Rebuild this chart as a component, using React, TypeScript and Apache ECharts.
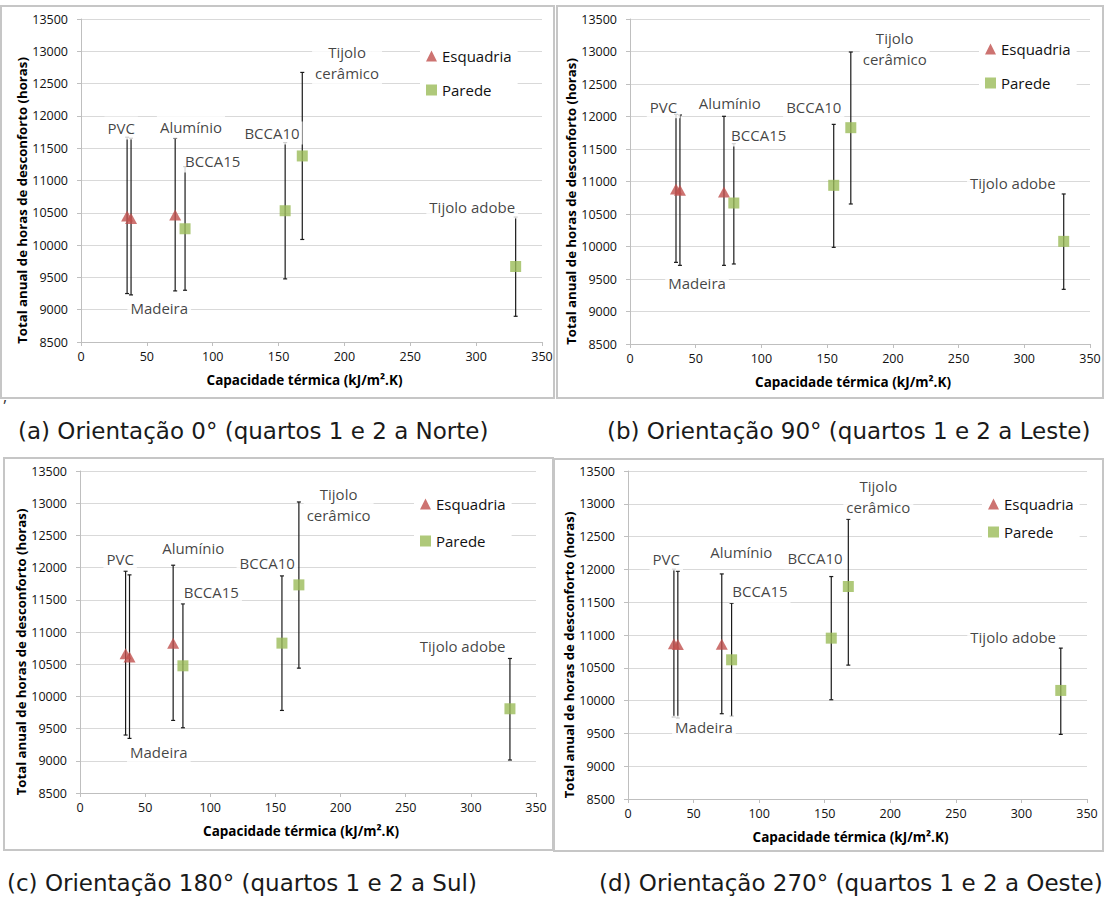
import React, { useEffect, useRef } from "react";
import * as echarts from "echarts";

// Shared x values (thermal capacity, kJ/m².K) per material
const materials = ["PVC", "Madeira", "Alumínio", "BCCA15", "BCCA10", "Tijolo cerâmico", "Tijolo adobe"];
const capacity = [35, 38, 71.5, 79, 155, 168, 330];
const esquadriaIdx = [0, 1, 2];
const paredeIdx = [3, 4, 5, 6];

// Panel (a) 0°
const meanA = [10449, 10413, 10465, 10253, 10532, 11380, 9669];
const maxA = [11670, 11654, 11654, 11215, 11587, 12673, 10434];
const minA = [9250, 9229, 9291, 9301, 9477, 10087, 8898];
// Panel (b) 90°
const meanB = [10885, 10864, 10838, 10669, 10941, 11828, 10079];
const maxB = [12033, 12023, 12003, 11582, 11879, 12992, 10808];
const minB = [9756, 9710, 9710, 9731, 9987, 10654, 9341];
// Panel (c) 180°
const meanC = [10661, 10610, 10827, 10475, 10827, 11732, 9808];
const maxC = [11944, 11887, 12037, 11437, 11871, 13019, 10589];
const minC = [9400, 9348, 9627, 9513, 9782, 10439, 9012];
// Panel (d) 270°
const meanD = [10865, 10855, 10860, 10622, 10952, 11739, 10155];
const maxD = [12003, 11972, 11931, 11485, 11891, 12764, 10800];
const minD = [9749, 9734, 9800, 9759, 10013, 10541, 9485];

// Annotation labels and their anchor in data coordinates
const labelTexts = ["PVC", "Alumínio", "BCCA10", "BCCA15", "Tijolo\ncerâmico", "Tijolo adobe", "Madeira"];
const labelXA = [30.5, 83.5, 145, 100, 202, 297, 59.4];
const labelYA = [11813, 11828, 11735, 11302, 12819, 10590, 9026];
const labelXB = [25.5, 75.9, 139.8, 97.9, 201.4, 291.3, 51];
const labelYB = [12151, 12203, 12141, 11715, 13049, 10982, 9433];
const labelXC = [30.8, 86.9, 143.7, 100.8, 198.5, 293.7, 60.5];
const labelYC = [12138, 12309, 12076, 11626, 12983, 10783, 9132];
const labelXD = [29.2, 86.4, 142.6, 100.6, 190.9, 293.7, 57.9];
const labelYD = [12159, 12270, 12178, 11665, 13108, 10974, 9593];

const xTicks = { min: 0, max: 350, interval: 50 };
const yTicks = { min: 8500, max: 13500, interval: 500 };

const captions = [
  "(a) Orientação 0° (quartos 1 e 2 a Norte)",
  "(b) Orientação 90° (quartos 1 e 2 a Leste)",
  "(c) Orientação 180° (quartos 1 e 2 a Sul)",
  "(d) Orientação 270° (quartos 1 e 2 a Oeste)",
];
const xTitle = "Capacidade térmica (kJ/m².K)";
const yTitle = "Total anual de horas de desconforto (horas)";

const FONT = "'Open Sans', sans-serif";
const INK = "#111";

const panels = [
  { mean: meanA, max: maxA, min: minA, lx: labelXA, ly: labelYA,
    grid: { left: 81, top: 19, width: 461, height: 323 },
    legend: { left: 420, top: 42, itemGap: 14 } },
  { mean: meanB, max: maxB, min: minB, lx: labelXB, ly: labelYB,
    grid: { left: 630, top: 19, width: 460, height: 325 },
    legend: { left: 979, top: 35, itemGap: 14 } },
  { mean: meanC, max: maxC, min: minC, lx: labelXC, ly: labelYC,
    grid: { left: 80, top: 471, width: 456, height: 322 },
    legend: { left: 414, top: 490, itemGap: 17 } },
  { mean: meanD, max: maxD, min: minD, lx: labelXD, ly: labelYD,
    grid: { left: 628, top: 471, width: 459, height: 328 },
    legend: { left: 982, top: 490, itemGap: 8 } },
];

function buildOption() {
  const grid: any[] = [];
  const xAxis: any[] = [];
  const yAxis: any[] = [];
  const legend: any[] = [];
  const series: any[] = [];

  panels.forEach((p, i) => {
    grid.push({ ...p.grid });
    xAxis.push({
      type: "value", gridIndex: i, ...xTicks,
      name: xTitle, nameLocation: "middle", nameGap: 31,
      nameTextStyle: { fontFamily: FONT, fontWeight: "bold", fontSize: 13.5, color: "#000", padding: [0, 14, 0, 0] },
      axisLine: { show: true, lineStyle: { color: "#bfbfbf", width: 1 } },
      axisTick: { show: true, length: 4, lineStyle: { color: "#bfbfbf" } },
      splitLine: { show: false },
      axisLabel: { fontFamily: FONT, fontSize: 12.5, color: INK, margin: 8, formatter: (v: number) => String(v) },
    });
    yAxis.push({
      type: "value", gridIndex: i, ...yTicks,
      name: yTitle, nameLocation: "middle", nameGap: 51,
      nameTextStyle: { fontFamily: FONT, fontWeight: "bold", fontSize: 13.2, color: "#000", padding: [0, 40, 0, 0] },
      axisLine: { show: true, lineStyle: { color: "#bfbfbf", width: 1 } },
      axisTick: { show: true, length: 4, lineStyle: { color: "#bfbfbf" } },
      splitLine: { show: true, lineStyle: { color: "#d9d9d9", width: 1 } },
      axisLabel: { fontFamily: FONT, fontSize: 12.5, color: INK, margin: 13, formatter: (v: number) => String(v) },
    });
    legend.push({
      data: ["Esquadria", "Parede"],
      orient: "vertical",
      left: p.legend.left, top: p.legend.top, itemGap: p.legend.itemGap,
      itemWidth: 11, itemHeight: 11,
      backgroundColor: "#fff", padding: [4, 6],
      textStyle: { fontFamily: FONT, fontSize: 15, color: INK, lineHeight: 20 },
      selectedMode: false,
    });

    // error bars
    series.push({
      type: "custom", xAxisIndex: i, yAxisIndex: i, z: 2,
      data: capacity.map((x, k) => [x, p.min[k], p.max[k]]),
      encode: { x: 0, y: [1, 2] },
      renderItem: (params: any, api: any) => {
        const x = api.value(0);
        const top = api.coord([x, api.value(2)]);
        const bot = api.coord([x, api.value(1)]);
        const st = { stroke: "#1a1a1a", lineWidth: 1.2 };
        return {
          type: "group",
          children: [
            { type: "line", shape: { x1: top[0], y1: top[1], x2: bot[0], y2: bot[1] }, style: st },
            { type: "line", shape: { x1: top[0] - 2, y1: top[1], x2: top[0] + 2, y2: top[1] }, style: st },
            { type: "line", shape: { x1: bot[0] - 2, y1: bot[1], x2: bot[0] + 2, y2: bot[1] }, style: st },
          ],
        };
      },
      silent: true,
    });
    series.push({
      type: "scatter", name: "Esquadria", xAxisIndex: i, yAxisIndex: i, z: 3,
      symbol: "triangle", symbolSize: [12, 11],
      itemStyle: { color: "#c0504d" },
      data: esquadriaIdx.map((k) => [capacity[k], p.mean[k]]),
    });
    series.push({
      type: "scatter", name: "Parede", xAxisIndex: i, yAxisIndex: i, z: 3,
      symbol: "rect", symbolSize: 11,
      itemStyle: { color: "#9bbb59" },
      data: paredeIdx.map((k) => [capacity[k], p.mean[k]]),
    });
    // annotation labels
    series.push({
      type: "scatter", xAxisIndex: i, yAxisIndex: i, z: 4,
      symbolSize: 0, silent: true,
      data: labelTexts.map((t, k) => ({ value: [p.lx[k], p.ly[k]], name: t })),
      label: {
        show: true, position: "inside", formatter: (d: any) => d.name,
        fontFamily: FONT, fontSize: 15, color: INK, lineHeight: 21,
        backgroundColor: "#fff", padding: [1, 3],
      },
    });
  });

  const border = { stroke: "#c6c6c6", lineWidth: 2, fill: "none" };
  const capStyle = { fontFamily: "'DejaVu Sans', sans-serif", fontSize: 23, fill: "#1a1a1a" };
  const graphic: any[] = [
    { type: "rect", shape: { x: 1, y: 6, width: 553, height: 392 }, style: border, z: -1 },
    { type: "rect", shape: { x: 557, y: 6, width: 546, height: 392 }, style: border, z: -1 },
    { type: "rect", shape: { x: 4, y: 458, width: 549, height: 392 }, style: border, z: -1 },
    { type: "rect", shape: { x: 554, y: 459, width: 549, height: 392 }, style: border, z: -1 },
    { type: "text", x: 3, y: 388, style: { text: ",", fontFamily: FONT, fontSize: 16, fill: "#333" } },
    { type: "text", x: 18, y: 431, style: { ...capStyle, text: captions[0], verticalAlign: "middle" } },
    { type: "text", x: 607, y: 431, style: { ...capStyle, text: captions[1], verticalAlign: "middle" } },
    { type: "text", x: 7, y: 883, style: { ...capStyle, text: captions[2], verticalAlign: "middle" } },
    { type: "text", x: 599, y: 883, style: { ...capStyle, text: captions[3], verticalAlign: "middle" } },
  ];

  return {
    animation: false,
    backgroundColor: "#fff",
    grid, xAxis, yAxis, legend, series, graphic,
  };
}

export default function App() {
  const ref = useRef<HTMLDivElement>(null);
  useEffect(() => {
    if (!ref.current) return;
    const chart = echarts.init(ref.current, undefined, { renderer: "svg" });
    chart.setOption(buildOption() as any);
    return () => chart.dispose();
  }, []);
  return (
    <div
      ref={ref}
      style={{ position: "absolute", left: 0, top: 0, width: 1104, height: 899, background: "#fff" }}
    />
  );
}
